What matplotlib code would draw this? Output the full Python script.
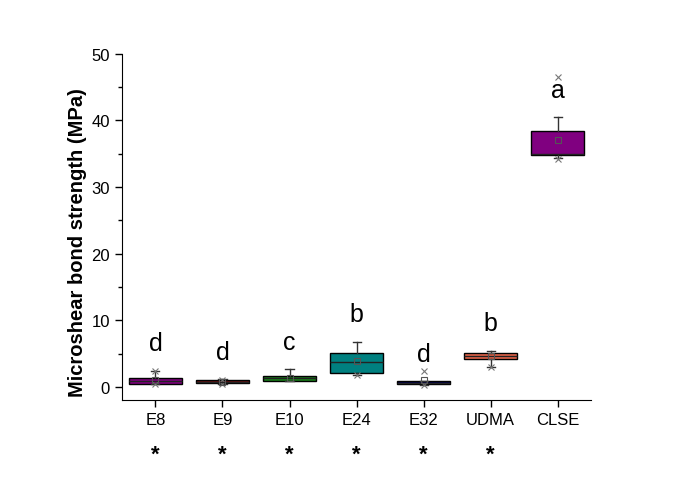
import matplotlib
matplotlib.use("Agg")
import matplotlib.pyplot as plt
from matplotlib.ticker import MultipleLocator
from matplotlib.transforms import blended_transform_factory

plt.rcParams["font.family"] = ["Liberation Sans", "DejaVu Sans"]

groups = ["E8", "E9", "E10", "E24", "E32", "UDMA", "CLSE"]
q1 = [0.5, 0.6, 0.9, 2.1, 0.4, 4.2, 34.8]
med = [0.9, 0.8, 1.3, 3.8, 0.6, 4.6, 34.9]
q3 = [1.35, 1.05, 1.7, 5.1, 0.85, 5.05, 38.4]
whislo = [0.45, 0.5, 0.9, 1.8, 0.3, 3.05, 34.3]
whishi = [2.45, 1.2, 2.7, 6.8, 0.85, 5.45, 40.5]
means = [1.0, 0.8, 1.3, 3.95, 1.0, 4.6, 37.1]
fliers = [[2.4, 0.4], [1.1, 0.5], [], [1.8], [2.35, 0.3], [3.0], [46.5, 34.2]]
letters = ["d", "d", "c", "b", "d", "b", "a"]
signif = ["*", "*", "*", "*", "*", "*", ""]
colors = ["#800080", "#6a1010", "#1a801a", "#008080", "#00004d", "#e8654a", "#800080"]

fig = plt.figure(figsize=(6.85, 4.81), dpi=100)
ax = fig.add_axes([0.178, 0.166, 0.685, 0.720])

stats = []
for i, g in enumerate(groups):
    stats.append(dict(label=g, q1=q1[i], med=med[i], q3=q3[i],
                      whislo=whislo[i], whishi=whishi[i],
                      mean=means[i], fliers=fliers[i]))

pos = list(range(1, len(groups) + 1))
bp = ax.bxp(stats, positions=pos, widths=0.8, patch_artist=True,
            showmeans=True, showfliers=True,
            boxprops=dict(linewidth=1.0, edgecolor="black"),
            medianprops=dict(color="#222222", linewidth=1.0),
            whiskerprops=dict(color="#333333", linewidth=1.0),
            capprops=dict(color="#333333", linewidth=1.0),
            capwidths=0.12,
            meanprops=dict(marker="s", markersize=4, markerfacecolor="none",
                           markeredgecolor="#555555", markeredgewidth=0.8),
            flierprops=dict(marker="x", markersize=4, markeredgecolor="#777777",
                            markeredgewidth=0.8))
for patch, c in zip(bp["boxes"], colors):
    patch.set_facecolor(c)

# significance letters above each group
for i, l in enumerate(letters):
    ax.annotate(l, xy=(pos[i], whishi[i]), xytext=(0, 11),
                textcoords="offset points", ha="center", va="bottom",
                fontsize=18)

trans = blended_transform_factory(ax.transData, ax.transAxes)
for i, s in enumerate(signif):
    if s:
        ax.text(pos[i], -0.155, s, transform=trans, ha="center", va="center",
                fontsize=16, fontweight="bold")

ax.set_xlim(0.5, 7.5)
ax.set_ylim(-2, 50)
ax.yaxis.set_major_locator(MultipleLocator(10))
ax.yaxis.set_minor_locator(MultipleLocator(5))
ax.spines["top"].set_visible(False)
ax.spines["right"].set_visible(False)
ax.tick_params(axis="both", direction="out", labelsize=12, length=5, width=1)
ax.tick_params(axis="y", which="minor", direction="out", length=3, width=1)
ax.set_xticks(pos)
ax.set_xticklabels(groups)
ax.set_ylabel("Microshear bond strength (MPa)", fontsize=14.5, fontweight="bold")
ax.yaxis.set_label_coords(-0.075, 0.457)

fig.savefig("out.png", dpi=100)
